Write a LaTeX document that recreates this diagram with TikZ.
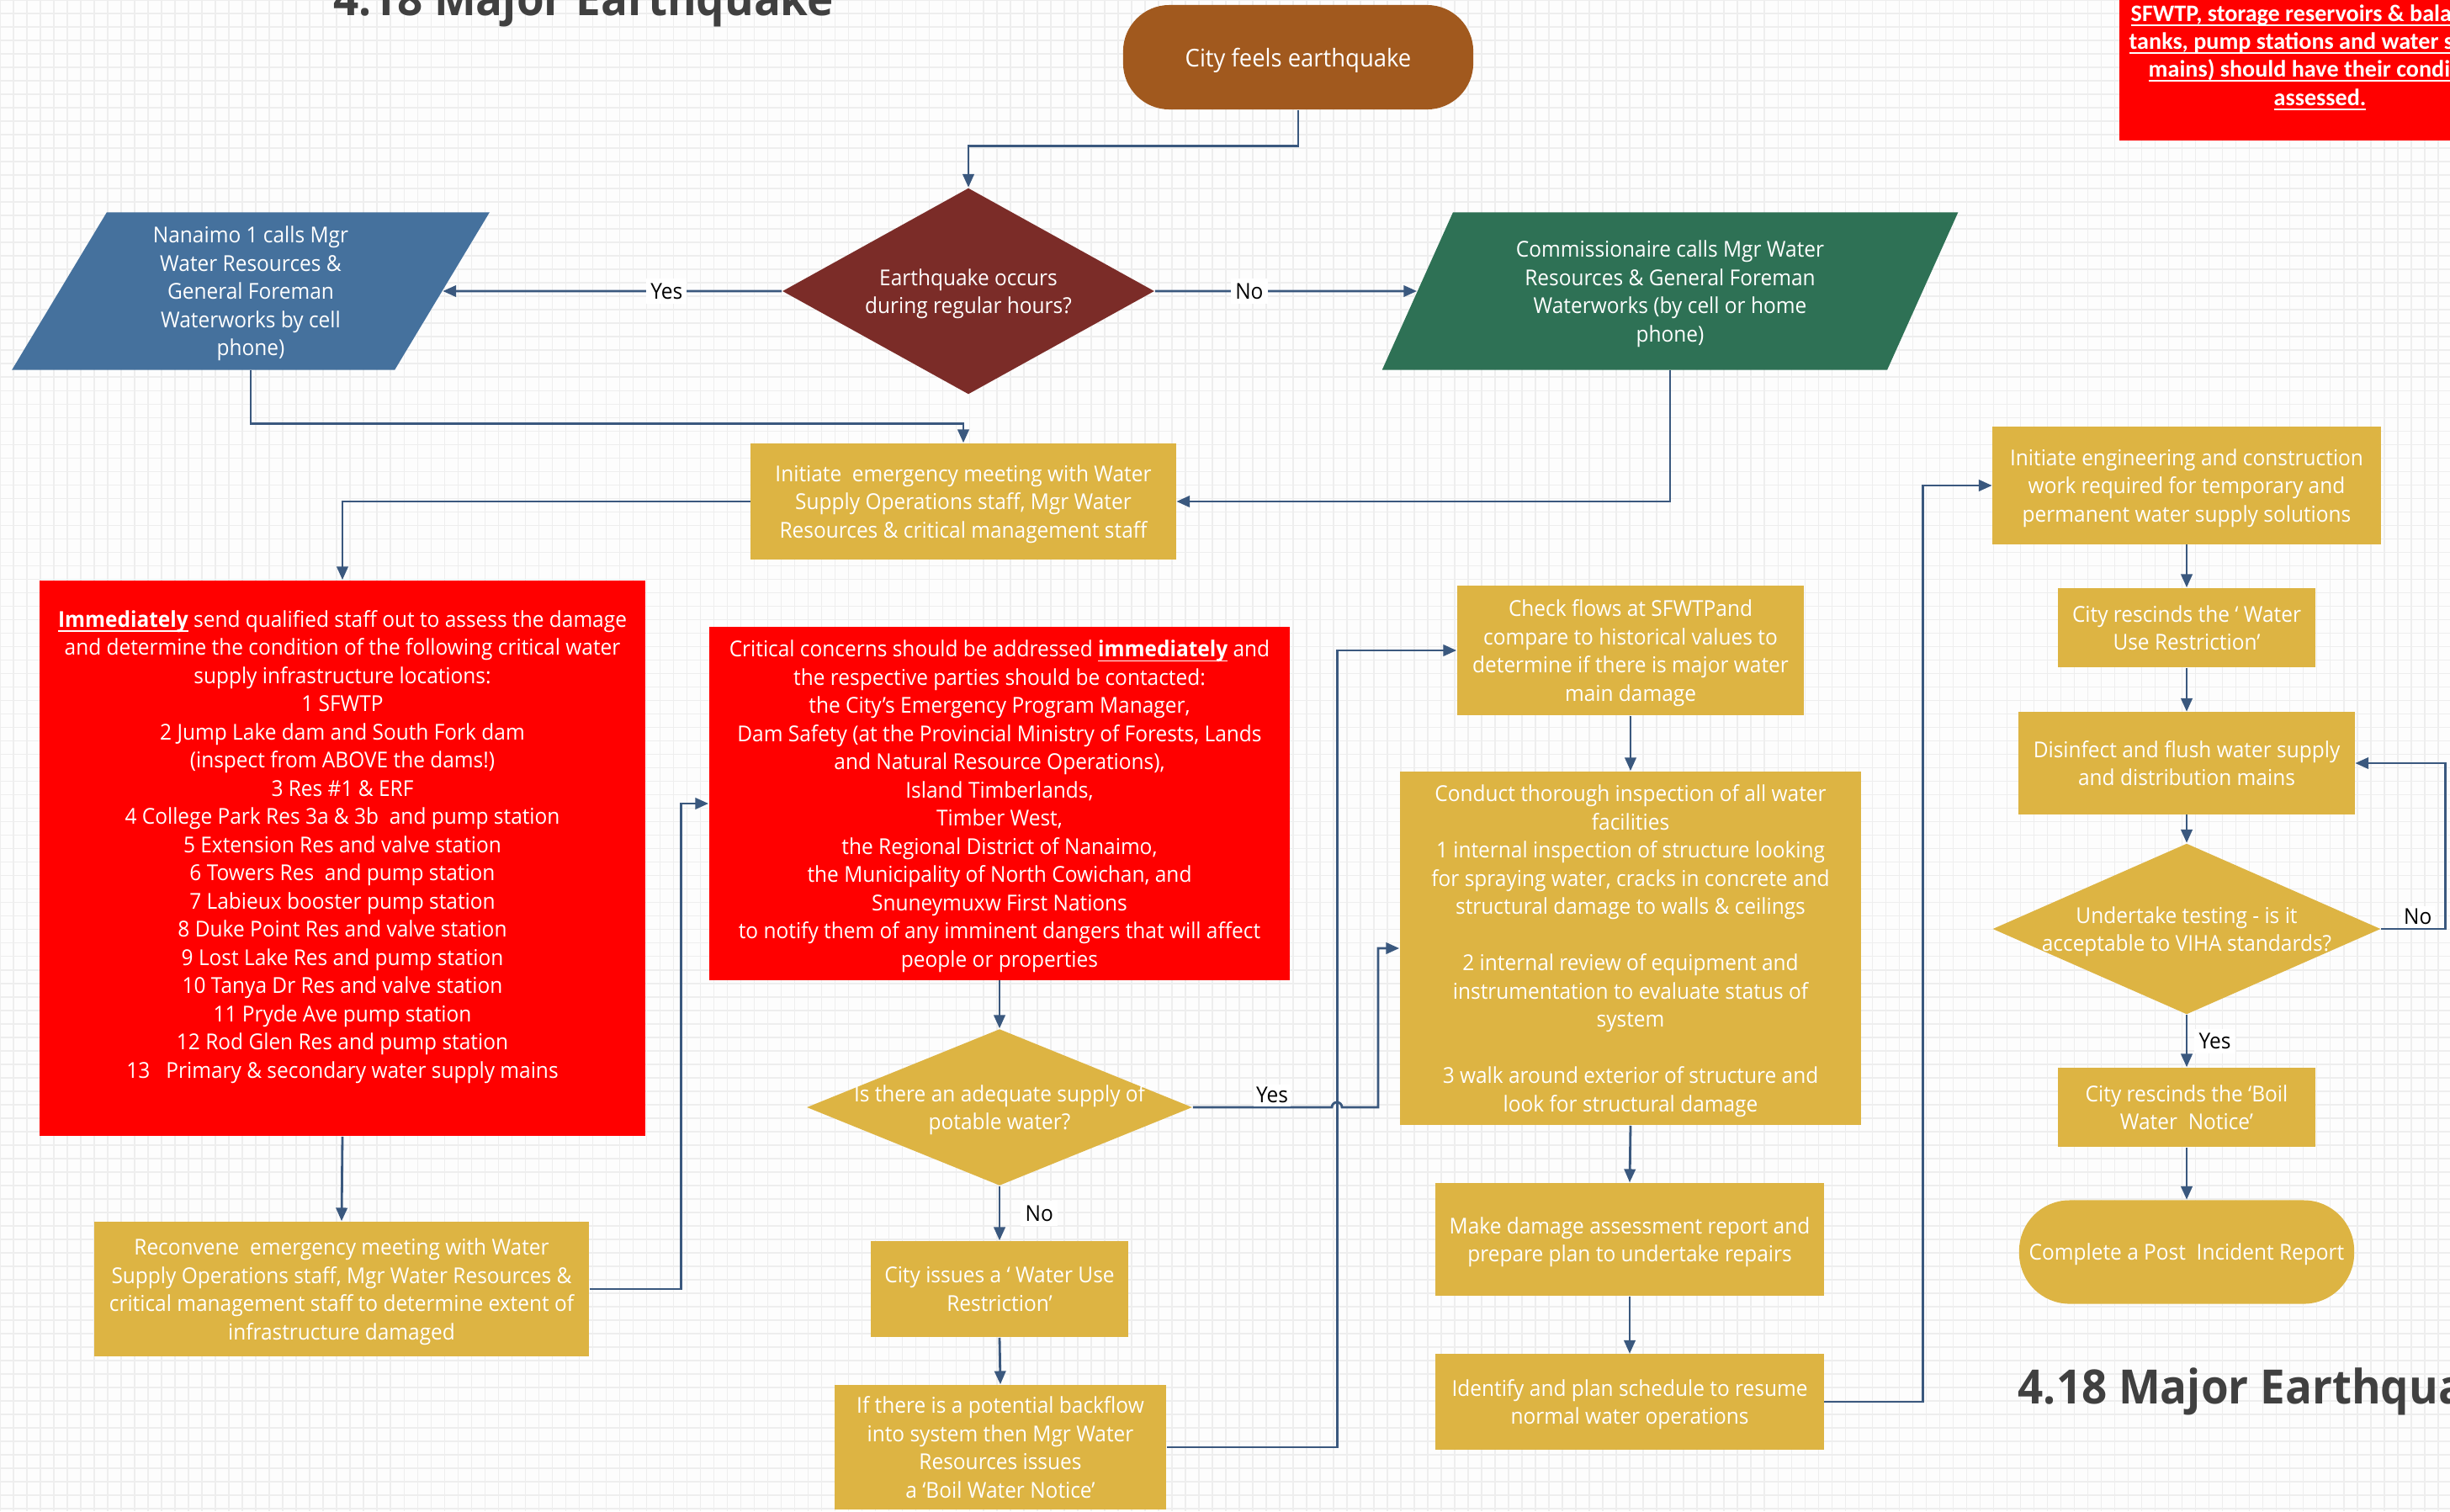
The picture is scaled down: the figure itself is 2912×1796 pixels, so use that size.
\documentclass[tikz,border=0pt]{standalone}
\usepackage{fontspec}
\setmainfont{Open Sans}[FakeStretch=0.94]
\newfontfamily\calfont{Carlito}
\usetikzlibrary{shapes.geometric,arrows.meta}

\newcommand\undl[1]{\setbox0=\hbox{#1}\rlap{\rule[-1.6pt]{\wd0}{0.45pt}}\box0\relax}

\definecolor{gold}{RGB}{221,180,67}
\definecolor{brick}{RGB}{123,44,40}
\definecolor{rust}{RGB}{161,89,30}
\definecolor{steel}{RGB}{69,113,157}
\definecolor{pine}{RGB}{46,113,85}
\definecolor{flow}{RGB}{58,88,126}
\definecolor{ink}{RGB}{64,64,64}
\definecolor{paper}{RGB}{253,253,253}
\definecolor{gridgray}{RGB}{238,238,238}

\begin{document}
\begin{tikzpicture}[x=0.01cm, y=-0.01cm,
  txt/.style={text=white, align=center, inner sep=0pt, text depth=0pt, font=\fontsize{7.4}{9.53}\selectfont},
  gbox/.style={txt, rectangle, fill=gold},
  rbox/.style={txt, rectangle, fill=red},
  gdia/.style={diamond, fill=gold, inner sep=0pt},
  slant/.style={txt, trapezium, trapezium left angle=63.6, trapezium right angle=116.4, trapezium stretches=true},
  conn/.style={draw=flow, line width=0.8pt, -{Triangle[length=4.5pt,width=3.8pt]}},
  lbl/.style={fill=white, text=black, inner sep=1.5pt, font=\fontsize{7.4}{9}\selectfont},
  head/.style={anchor=base west, inner sep=0pt, text=ink, font=\bfseries\fontsize{16}{18}\selectfont}]

\useasboundingbox (0,0) rectangle (2912,1796);
\clip (0,0) rectangle (2912,1796);
\fill[paper] (0,0) rectangle (2912,1796);
\draw[gridgray, line width=0.45pt] (0,0) grid[step=0.16cm] (2912,1796);

% titles
\node[head] (T1) at (396,18) {4.18 Major Earthquake};
\node[head] (T2) at (2398,1668) {4.18 Major Earthquake};

% start and first decision
\node[txt, fill=rust, rounded corners=0.55cm, minimum width=4.16cm, minimum height=1.24cm, font=\fontsize{8.3}{10}\selectfont] (A) at (1543,68) {City feels earthquake};
\node[diamond, fill=brick, inner sep=0pt, minimum width=4.42cm, minimum height=2.45cm] (B) at (1151,346) {};
\node[txt] (Bt) at (B) {Earthquake occurs\\during regular hours?};
\node[slant, fill=steel, minimum width=5.68cm, minimum height=1.87cm] (C) at (298,346) {Nanaimo 1 calls Mgr\\Water Resources \&\\General Foreman\\Waterworks by cell\\phone)};
\node[slant, fill=pine, minimum width=6.85cm, minimum height=1.87cm] (D) at (1985,346) {Commissionaire calls Mgr Water\\Resources \& General Foreman\\Waterworks (by cell or home\\phone)};
\node[gbox, minimum width=5.05cm, minimum height=1.38cm] (E) at (1145,596) {Initiate~ emergency meeting with Water\\Supply Operations staff, Mgr Water\\Resources \& critical management staff};

% left column
\node[rbox, minimum width=7.2cm, minimum height=6.6cm] (F) at (407,1020) {\undl{\textbf{Immediately}} send qualified staff out to assess the damage\\and determine the condition of the following critical water\\supply infrastructure locations:\\1 SFWTP\\2 Jump Lake dam and South Fork dam\\(inspect from ABOVE the dams!)\\3 Res \#1 \& ERF\\4 College Park Res 3a \& 3b~ and pump station\\5 Extension Res and valve station\\6 Towers Res~ and pump station\\7 Labieux booster pump station\\8 Duke Point Res and valve station\\9 Lost Lake Res and pump station\\10 Tanya Dr Res and valve station\\11 Pryde Ave pump station\\12 Rod Glen Res and pump station\\13\ \ \ Primary \& secondary water supply mains\\ \mbox{}};
\node[gbox, minimum width=5.88cm, minimum height=1.6cm] (G) at (406,1532) {Reconvene~ emergency meeting with Water\\Supply Operations staff, Mgr Water Resources \&\\critical management staff to determine extent of\\infrastructure damaged};

% middle column
\node[rbox, minimum width=6.9cm, minimum height=4.19cm] (H) at (1188,955) {Critical concerns should be addressed \undl{\textbf{immediately}} and\\the respective parties should be contacted:\\the City’s Emergency Program Manager,\\Dam Safety (at the Provincial Ministry of Forests, Lands\\and Natural Resource Operations),\\Island Timberlands,\\Timber West,\\the Regional District of Nanaimo,\\the Municipality of North Cowichan, and\\Snuneymuxw First Nations\\to notify them of any imminent dangers that will affect\\people or properties};
\node[gdia, minimum width=4.58cm, minimum height=1.86cm] (I) at (1188,1316) {};
\node[txt] (It) at (I) {Is there an adequate supply of\\potable water?};
\node[gbox, minimum width=3.06cm, minimum height=1.14cm] (J) at (1188,1532) {City issues a ‘ Water Use\\Restriction’};
\node[gbox, minimum width=3.94cm, minimum height=1.48cm] (K) at (1189,1720) {If there is a potential backflow\\into system then Mgr Water\\Resources issues\\a ‘Boil Water Notice’};

% inspection column
\node[gbox, minimum width=4.12cm, minimum height=1.54cm] (L) at (1938,773) {Check flows at SFWTPand\\compare to historical values to\\determine if there is major water\\main damage};
\node[gbox, minimum width=5.48cm, minimum height=4.2cm] (M) at (1938,1127) {Conduct thorough inspection of all water\\facilities\\1 internal inspection of structure looking\\for spraying water, cracks in concrete and\\structural damage to walls \& ceilings\\[9.53pt]2 internal review of equipment and\\instrumentation to evaluate status of\\system\\[9.53pt]3 walk around exterior of structure and\\look for structural damage};
\node[gbox, minimum width=4.61cm, minimum height=1.34cm] (N) at (1937,1473) {Make damage assessment report and\\prepare plan to undertake repairs};
\node[gbox, minimum width=4.61cm, minimum height=1.13cm] (O) at (1937,1666) {Identify and plan schedule to resume\\normal water operations};

% right column
\node[gbox, minimum width=4.61cm, minimum height=1.39cm] (P) at (2599,577) {Initiate engineering and construction\\work required for temporary and\\permanent water supply solutions};
\node[gbox, minimum width=3.05cm, minimum height=0.94cm] (Q) at (2599,746) {City rescinds the ‘ Water\\Use Restriction’};
\node[gbox, minimum width=3.99cm, minimum height=1.21cm] (R) at (2599,907) {Disinfect and flush water supply\\and distribution mains};
\node[gdia, minimum width=4.61cm, minimum height=2.03cm] (S) at (2599,1104) {};
\node[txt] (St) at (S) {Undertake testing - is it\\acceptable to VIHA standards?};
\node[gbox, minimum width=3.05cm, minimum height=0.94cm] (T) at (2599,1316) {City rescinds the ‘Boil\\Water~ Notice’};
\node[gbox, rounded corners=0.6cm, minimum width=3.98cm, minimum height=1.23cm] (U) at (2599,1488) {Complete a Post~ Incident Report};

% note in the corner
\node[rbox, anchor=north west, minimum width=4.9cm, minimum height=1.76cm] (V) at (2518,-10) {};
\node[anchor=base west, inner sep=0pt, text=white, font=\calfont\bfseries\fontsize{8}{9}\selectfont] (v1) at (2532,25) {\undl{SFWTP, storage reservoirs \& bala}};
\node[anchor=base west, inner sep=0pt, text=white, font=\calfont\bfseries\fontsize{8}{9}\selectfont] (v2) at (2530,58) {\undl{tanks, pump stations and water s}};
\node[anchor=base west, inner sep=0pt, text=white, font=\calfont\bfseries\fontsize{8}{9}\selectfont] (v3) at (2553,91) {\undl{mains) should have their condi}};
\node[anchor=base west, inner sep=0pt, text=white, font=\calfont\bfseries\fontsize{8}{9}\selectfont] (v4) at (2702,125) {\undl{assessed.}};

% connectors
\draw[conn] (A.south) -- ++(0,43) -| (B.north);
\draw[conn] (B.west) -- node[lbl, pos=0.34] {Yes} (C);
\draw[conn] (B.east) -- node[lbl, pos=0.36] {No} (D);
\draw[conn] (C.south) -- ++(0,63) -| (E.north);
\draw[conn] (D.south) |- (E.east);
\draw[conn] (E.west) -| (F.north);
\draw[conn] (F.south) -- (G.north);
\draw[conn] (G.east) -- ++(109,0) |- (H.west);
\draw[conn] (H.south) -- (I.north);
\draw[conn] (I.south) -- node[lbl, anchor=west, xshift=0.24cm] {No} (J.north);
\draw[conn] (I.east) -- node[lbl, above, pos=0.57, inner sep=1pt] {Yes} (1583,1316) arc[start angle=180, end angle=0, radius=0.06cm] -- (1638,1316) |- (M.west);
\draw[conn] (J.south) -- (K.north);
\draw[conn] (K.east) -- ++(203,0) |- (L.west);
\draw[conn] (L.south) -- (M.north);
\draw[conn] (M.south) -- (N.north);
\draw[conn] (N.south) -- (O.north);
\draw[conn] (O.east) -- ++(117,0) |- (P.west);
\draw[conn] (P.south) -- (Q.north);
\draw[conn] (Q.south) -- (R.north);
\draw[conn] (R.south) -- (S.north);
\draw[conn] (S.south) -- node[lbl, anchor=west, xshift=0.08cm] {Yes} (T.north);
\draw[conn] (S.east) -- node[lbl, above, pos=0.57, inner sep=1pt] {No} ++(76,0) |- (R.east);
\draw[conn] (T.south) -- (U.north);
\end{tikzpicture}
\end{document}
